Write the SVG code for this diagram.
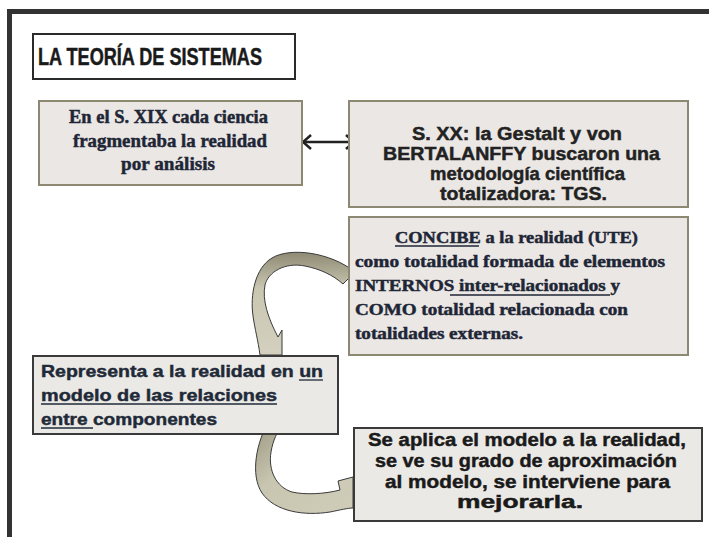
<svg xmlns="http://www.w3.org/2000/svg" width="709" height="537" viewBox="0 0 709 537" xml:space="preserve">
<style>
.sans{font-family:"Liberation Sans",Arial,sans-serif;font-weight:bold;white-space:pre}
.serif{font-family:"Liberation Serif","Times New Roman",serif;font-weight:bold;white-space:pre}
.boxA{fill:#eae7e4;stroke:#8d8872;stroke-width:2}
.boxB{fill:#ebe9e6;stroke:#3a3a3a;stroke-width:2}
.ul{stroke-width:1.3;fill:none}
.band{stroke:#3a3a3a;stroke-width:1}
.heavy{stroke-width:0.45}
</style>
<defs>
<marker id="chev" viewBox="0 0 10 16" refX="9" refY="8" markerWidth="10" markerHeight="16" markerUnits="userSpaceOnUse" orient="auto-start-reverse">
<path d="M1,1 L9,8 L1,15" fill="none" stroke="#222" stroke-width="2.5"/>
</marker>
<linearGradient id="g1" x1="0" y1="0" x2="0" y2="1">
<stop offset="0" stop-color="#8e8a74"/>
<stop offset="0.35" stop-color="#c9c6b1"/>
<stop offset="1" stop-color="#d3d0bf"/>
</linearGradient>
<linearGradient id="g2" x1="0" y1="0" x2="1" y2="1">
<stop offset="0" stop-color="#9a9680"/>
<stop offset="0.4" stop-color="#c8c5b0"/>
<stop offset="1" stop-color="#cfccb9"/>
</linearGradient>
</defs>
<rect width="709" height="537" fill="#ffffff"/>
<g id="frame" fill="#333333">
<rect x="7" y="9" width="702" height="5"/>
<rect x="7" y="9" width="5" height="528"/>
</g>
<g id="title">
<rect x="33" y="34" width="262" height="45" fill="#ffffff" stroke="#2a2a2a" stroke-width="2"/>
<text class="sans heavy" x="38" y="65" font-size="23" fill="#1a1a1a" stroke="#1a1a1a" textLength="224" lengthAdjust="spacingAndGlyphs">LA TEORÍA DE SISTEMAS</text>
</g>
<g id="connectors">
<line x1="303" y1="142" x2="354" y2="142" stroke="#222" stroke-width="2.5" marker-start="url(#chev)" marker-end="url(#chev)"/>
<path class="band" fill="url(#g1)" d="M355,272 C330,252 290,247 272,258 C255,268 250,295 253,316 C255,330 258,340 260,355 L282,355 L282,330 L278,337 C268,318 262,300 265,285 C268,272 285,262 305,266 C320,269 333,275 343,284 Z"/>
<path class="band" fill="url(#g2)" d="M270,419 C256,442 250,475 262,493 C275,512 305,516 330,512 C340,510 348,508 353,508 L353,477 L338,481 L340,490 C325,494 305,495 292,492 C276,487 268,470 271,452 C273,440 277,432 283,425 Z"/>
</g>
<g id="node1">
<rect class="boxA" x="39" y="101" width="263" height="84"/>
<g class="serif heavy" font-size="18" fill="#1e2636" stroke="#1e2636">
<text x="69" y="123" textLength="199" lengthAdjust="spacingAndGlyphs">En el S. XIX cada ciencia</text>
<text x="73" y="147" textLength="194" lengthAdjust="spacingAndGlyphs">fragmentaba  la realidad</text>
<text x="121" y="170" textLength="94" lengthAdjust="spacingAndGlyphs">por análisis</text>
</g>
</g>
<g id="node2">
<rect class="boxA" x="349" y="101" width="339" height="106"/>
<g class="sans heavy" font-size="18" fill="#222222" stroke="#222222">
<text x="412" y="140" textLength="210" lengthAdjust="spacingAndGlyphs">S. XX: la Gestalt y von</text>
<text x="383" y="160" textLength="277" lengthAdjust="spacingAndGlyphs">BERTALANFFY  buscaron una</text>
<text x="430" y="180" textLength="195" lengthAdjust="spacingAndGlyphs">metodología científica</text>
<text x="440" y="200" textLength="167" lengthAdjust="spacingAndGlyphs">totalizadora: TGS.</text>
</g>
</g>
<g id="node3">
<rect class="boxA" x="349" y="217" width="339" height="138"/>
<g class="serif heavy" font-size="16" fill="#1e2636" stroke="#1e2636">
<text x="395" y="243" textLength="243" lengthAdjust="spacingAndGlyphs">CONCIBE a la realidad  (UTE)</text>
<text x="355" y="267" textLength="310" lengthAdjust="spacingAndGlyphs">como totalidad  formada  de elementos</text>
<text x="355" y="291" textLength="265" lengthAdjust="spacingAndGlyphs">INTERNOS inter-relacionados   y</text>
<text x="355" y="315" textLength="273" lengthAdjust="spacingAndGlyphs">COMO totalidad  relacionada  con</text>
<text x="355" y="339" textLength="168" lengthAdjust="spacingAndGlyphs">totalidades  externas.</text>
</g>
<line class="ul" stroke="#1e2636" x1="395" y1="246" x2="479" y2="246"/>
<line class="ul" stroke="#1e2636" x1="450" y1="295" x2="610" y2="295"/>
</g>
<g id="node4">
<rect class="boxB" x="33" y="356" width="305" height="78"/>
<g class="sans heavy" font-size="17" fill="#1f2a38" stroke="#1f2a38">
<text x="41" y="377" textLength="282" lengthAdjust="spacingAndGlyphs">Representa a la realidad en un</text>
<text x="41" y="401" textLength="236" lengthAdjust="spacingAndGlyphs">modelo de  las relaciones</text>
<text x="41" y="425" textLength="176" lengthAdjust="spacingAndGlyphs">entre componentes</text>
</g>
<g stroke="#1f2a38">
<line class="ul" x1="299" y1="380" x2="323" y2="380"/>
<line class="ul" x1="41" y1="404" x2="277" y2="404"/>
<line class="ul" x1="41" y1="428" x2="93" y2="428"/>
</g>
</g>
<g id="node5">
<rect class="boxB" x="354" y="428" width="348" height="93"/>
<g class="sans heavy" font-size="18" fill="#1a1a1a" stroke="#1a1a1a">
<text x="368" y="446" textLength="318" lengthAdjust="spacingAndGlyphs">Se aplica el modelo a la realidad,</text>
<text x="375" y="467" textLength="302" lengthAdjust="spacingAndGlyphs">se ve su grado de aproximación</text>
<text x="385" y="488" textLength="285" lengthAdjust="spacingAndGlyphs">al modelo,  se interviene para</text>
<text x="457" y="508" textLength="126" lengthAdjust="spacingAndGlyphs">mejorarla.</text>
</g>
</g>
</svg>
